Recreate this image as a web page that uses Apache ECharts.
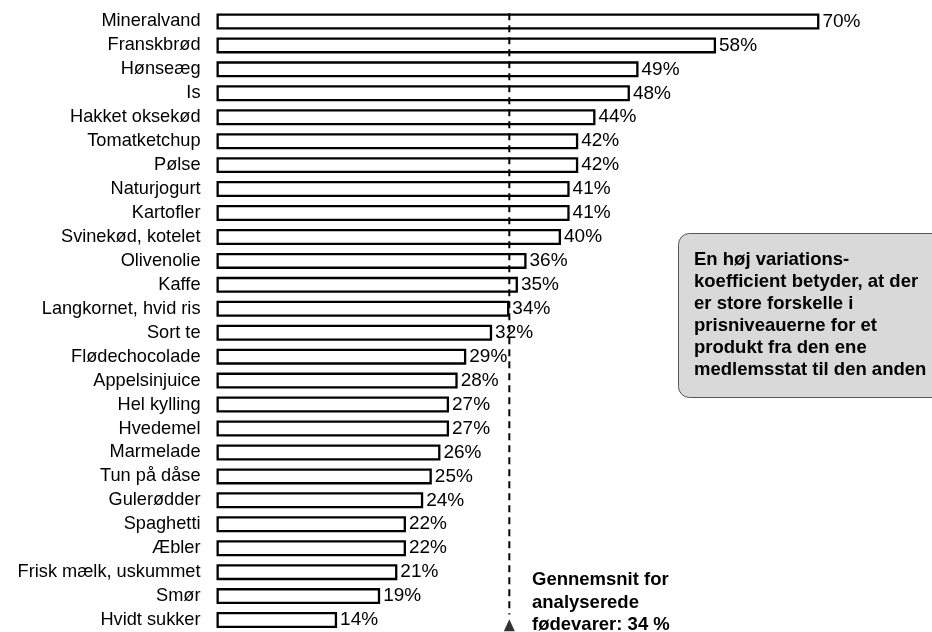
<!DOCTYPE html>
<html>
<head>
<meta charset="utf-8">
<script src="https://cdn.jsdelivr.net/npm/echarts@6/dist/echarts.min.js"></script>
<style>
html,body{margin:0;padding:0;background:#fff;}
#c{width:932px;height:632px;}
</style>
</head>
<body>
<div id="c"></div>
<script>
const categories = ["Mineralvand","Franskbrød","Hønseæg","Is","Hakket oksekød","Tomatketchup","Pølse","Naturjogurt","Kartofler","Svinekød, kotelet","Olivenolie","Kaffe","Langkornet, hvid ris","Sort te","Flødechocolade","Appelsinjuice","Hel kylling","Hvedemel","Marmelade","Tun på dåse","Gulerødder","Spaghetti","Æbler","Frisk mælk, uskummet","Smør","Hvidt sukker"];
const values = [70,58,49,48,44,42,42,41,41,40,36,35,34,32,29,28,27,27,26,25,24,22,22,21,19,14];
const average = 34;
const avgLineSpan = [0.6, 97.2];
const arrowPos = 98.9;
const noteText = ["En høj variations-","koefficient betyder, at der","er store forskelle i","prisniveauerne for et","produkt fra den ene","medlemsstat til den anden"];
const avgText = ["Gennemsnit for","analyserede","fødevarer: 34 %"];

const FONT = '"Liberation Sans", Arial, sans-serif';
const chart = echarts.init(document.getElementById('c'), null, {renderer:'canvas'});
chart.setOption({
  animation:false,
  backgroundColor:'#fff',
  grid:{left:216.5, top:9.5, width:689, height:625.5},
  xAxis:{type:'value', min:0, max:80, show:false},
  yAxis:[
    {type:'category', data:categories, inverse:true,
     axisLine:{show:false}, axisTick:{show:false}, splitLine:{show:false},
     axisLabel:{fontFamily:FONT, fontSize:18.2, color:'#000', margin:16}},
    {type:'value', min:0, max:100, inverse:true, show:false}
  ],
  series:[
    {type:'bar', data:values, barWidth:16, z:2,
     itemStyle:{color:'#fff', borderColor:'#000', borderWidth:2.3},
     label:{show:true, position:'right', distance:3, formatter:'{c}%', fontFamily:FONT, fontSize:19, color:'#000'}},
    {type:'line', yAxisIndex:1, z:5, symbol:'none',
     data:[[average, avgLineSpan[0]],[average, avgLineSpan[1]]],
     lineStyle:{color:'#000', width:2, type:[7,5]}},
    {type:'scatter', yAxisIndex:1, z:5, symbol:'triangle', symbolSize:[11,12],
     data:[[average, arrowPos]], itemStyle:{color:'#000'}}
  ],
  graphic:[
    {type:'rect', left:678, top:233, z:10,
     shape:{width:280, height:164, r:11},
     style:{fill:'#d9d9d9', stroke:'#555', lineWidth:1}},
    {type:'text', left:694, top:249, z:11,
     style:{text:noteText.join('\n'), fontFamily:FONT, fontSize:18.5, fontWeight:'bold', lineHeight:22, fill:'#000'}},
    {type:'text', left:532, top:569, z:11,
     style:{text:avgText.join('\n'), fontFamily:FONT, fontSize:18.5, fontWeight:'bold', lineHeight:22.5, fill:'#000'}}
  ]
});
</script>
</body>
</html>
